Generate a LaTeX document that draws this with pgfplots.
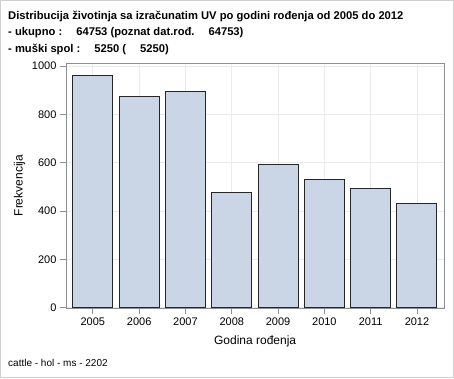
\documentclass[border=0pt]{standalone}
\usepackage{pgfplots}
\pgfplotsset{compat=1.18}
\usepackage{fontspec}
\setmainfont{Liberation Sans}
\definecolor{barfill}{HTML}{CAD5E5}
\definecolor{framec}{HTML}{8C9096}
\definecolor{gridc}{HTML}{EBEBEB}
\definecolor{borderc}{HTML}{D0D0D0}
\begin{document}
\begin{tikzpicture}[x=1pt,y=1pt]
\draw[borderc, line width=1pt] (0.5,0.5) rectangle (453.5,377.5);
\path (0,0) (454,378);
\node[anchor=base west, inner sep=0pt, font=\fontsize{11.2}{13}\selectfont\bfseries] at (8,378-19.5) {Distribucija životinja sa izračunatim UV po godini rođenja od 2005 do 2012};
\node[anchor=base west, inner sep=0pt, font=\fontsize{11.2}{13}\selectfont\bfseries] at (8,378-36) {- ukupno :\hspace{14pt}64753 (poznat dat.rođ.\hspace{14pt}64753)};
\node[anchor=base west, inner sep=0pt, font=\fontsize{11.2}{13}\selectfont\bfseries] at (8,378-52.5) {- muški spol :\hspace{14pt}5250 (\hspace{14pt}5250)};
\node[anchor=base west, inner sep=0pt, font=\fontsize{10}{12}\selectfont] at (8,378-366) {cattle - hol - ms - 2202};
\begin{axis}[
  at={(66pt,314.7pt)}, anchor=north west,
  scale only axis, width=378.3pt, height=244.7pt,
  xmin=-0.58, xmax=7.59, ymin=-1, ymax=1012,
  xtick={0,...,7}, xticklabels={2005,2006,2007,2008,2009,2010,2011,2012},
  ytick={0,200,400,600,800,1000},
  grid=major, major grid style={gridc, line width=0.8pt},
  axis line style={framec, line width=0.8pt},
  tick style={framec, line width=0.8pt},
  tick align=outside, major tick length=6pt,
  xtick pos=bottom, ytick pos=left,
  /pgf/number format/assume math mode=true,
  /pgf/number format/1000 sep={},
  ticklabel style={font=\fontsize{11}{13}\selectfont, text=black},
  xlabel={Godina rođenja}, ylabel={Frekvencija},
  label style={font=\fontsize{12}{14}\selectfont},
  xlabel style={yshift=-4pt},
  ylabel style={yshift=0pt},
]
\addplot[ybar, bar width=0.864, bar shift=0pt, fill=barfill, draw=black!85, line width=1pt]
coordinates {(0,960) (1,873) (2,897) (3,476) (4,592) (5,532) (6,492) (7,431)};
\end{axis}
\end{tikzpicture}
\end{document}
